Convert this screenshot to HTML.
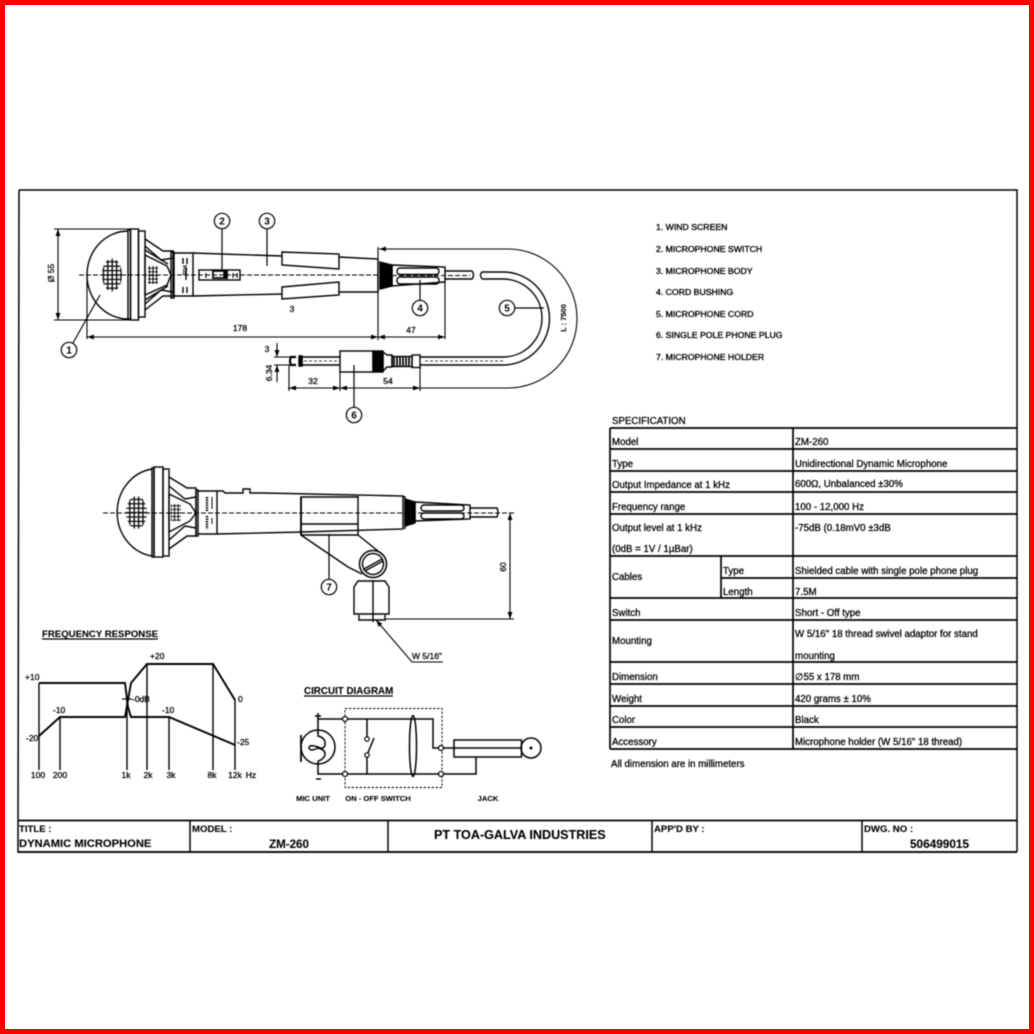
<!DOCTYPE html>
<html><head><meta charset="utf-8"><style>
html,body{margin:0;padding:0;background:#fff;width:1034px;height:1034px;overflow:hidden}
svg{display:block;filter:blur(.4px)}
#r{position:absolute;left:0;top:0;width:1024px;height:1024px;border:5px solid #f00}
text{font-family:"Liberation Sans",sans-serif;fill:#000;stroke:#000;stroke-width:.28}
.t{font-size:9.7px}
.l{font-size:8.7px;stroke-width:.35}
.d{font-size:8.5px}
.b{font-weight:bold;stroke-width:.1}
.n{font-size:10px;font-weight:bold;text-anchor:middle;stroke-width:0}
</style></head><body>
<svg width="1034" height="1034" viewBox="0 0 1034 1034" xmlns="http://www.w3.org/2000/svg">
<defs>
<pattern id="g" x="0" y="0" width="4.4" height="4.4" patternUnits="userSpaceOnUse"><path d="M0 2.2H4.4M2.2 0V4.4" stroke="#000" stroke-width="1.3" fill="none"/></pattern>
<pattern id="g2" x="0" y="0" width="3.6" height="3.6" patternUnits="userSpaceOnUse"><path d="M0 1.8H3.6M1.8 0V3.6" stroke="#000" stroke-width="1" fill="none"/></pattern>
<marker id="a" markerWidth="8" markerHeight="6" refX="7" refY="3" orient="auto-start-reverse" markerUnits="userSpaceOnUse"><path d="M0 .6L7 3L0 5.4Z" fill="#000"/></marker>
</defs>
<!-- frame -->
<g fill="none" stroke="#000" stroke-width="1.5">
<path d="M19 190H1017V852M19 190L18 852H1017"/>
<path d="M18 820.5H1017" stroke-width="1.8"/>
<path d="M18 852H1017" stroke-width="1.8"/>
<path d="M190 820V852M388 820V852M652 820V852M862 820V852"/>
</g>
<text x="19" y="832" class="b" font-size="9.6">TITLE :</text>
<text x="19" y="847" class="b" font-size="11.2">DYNAMIC MICROPHONE</text>
<text x="192" y="832" class="b" font-size="9.6">MODEL :</text>
<text x="269" y="848" class="b" font-size="11.6">ZM-260</text>
<text x="434" y="839" class="b" font-size="12.6">PT TOA-GALVA INDUSTRIES</text>
<text x="654" y="832" class="b" font-size="9.6">APP'D BY :</text>
<text x="864" y="832" class="b" font-size="9.6">DWG. NO :</text>
<text x="910" y="848" class="b" font-size="11.8">506499015</text>

<!-- legend -->
<text x="656" y="230" class="l">1. WIND SCREEN</text>
<text x="656" y="252" class="l">2. MICROPHONE SWITCH</text>
<text x="656" y="274" class="l">3. MICROPHONE BODY</text>
<text x="656" y="295" class="l">4. CORD BUSHING</text>
<text x="656" y="317" class="l">5. MICROPHONE CORD</text>
<text x="656" y="338" class="l">6. SINGLE POLE PHONE PLUG</text>
<text x="656" y="360" class="l">7. MICROPHONE HOLDER</text>

<!-- spec table -->
<text x="612" y="424" class="t">SPECIFICATION</text>
<g stroke="#000" stroke-width="1.7" fill="none">
<path d="M610 428H1017M610 449H1017M610 471H1017M610 492H1017M610 514H1017M610 556H1017M721 578H1017M610 598H1017M610 620H1017M610 662H1017M610 684H1017M610 706H1017M610 727H1017M610 749H1017"/>
<path d="M610 428V749M793 428V749M721 556V598"/>
</g>
<g class="t">
<text x="612" y="445" class="t">Model</text><text x="795" y="445" class="t">ZM-260</text>
<text x="612" y="467" class="t">Type</text><text x="795" y="467" class="t">Unidirectional Dynamic Microphone</text>
<text x="612" y="488" class="t">Output Impedance at 1 kHz</text><text x="795" y="487" class="t">600Ω, Unbalanced ±30%</text>
<text x="612" y="510" class="t">Frequency range</text><text x="795" y="510" class="t">100 - 12,000 Hz</text>
<text x="612" y="531" class="t">Output level at 1 kHz</text><text x="795" y="531" class="t">-75dB (0.18mV0 ±3dB</text>
<text x="612" y="552" class="t">(0dB = 1V / 1µBar)</text>
<text x="612" y="580" class="t">Cables</text><text x="723" y="574" class="t">Type</text><text x="795" y="574" class="t">Shielded cable with single pole phone plug</text>
<text x="723" y="595" class="t">Length</text><text x="795" y="595" class="t">7.5M</text>
<text x="612" y="616" class="t">Switch</text><text x="795" y="616" class="t">Short - Off type</text>
<text x="612" y="644" class="t">Mounting</text><text x="795" y="637" class="t">W 5/16" 18 thread swivel adaptor for stand</text><text x="795" y="659" class="t">mounting</text>
<text x="612" y="680" class="t">Dimension</text><text x="795" y="680" class="t">∅55 x 178 mm</text>
<text x="612" y="702" class="t">Weight</text><text x="795" y="702" class="t">420 grams ± 10%</text>
<text x="612" y="723" class="t">Color</text><text x="795" y="723" class="t">Black</text>
<text x="612" y="745" class="t">Accessory</text><text x="795" y="745" class="t">Microphone holder (W 5/16" 18 thread)</text>
<text x="611" y="767" class="t">All dimension are in millimeters</text>
</g>

<!-- TOP MIC -->
<g fill="none" stroke="#000" stroke-width="1.4">
<path d="M128 231A41 44 0 0 0 128 319" stroke-width="1.4"/>
<rect x="128" y="230" width="2.5" height="89" stroke-width="1.4"/>
<rect x="130.5" y="229" width="8" height="91"/>
<rect x="138.500" y="231" width="6.500" height="86"/>
<ellipse cx="112" cy="275" rx="10" ry="16.500" fill="url(#g)" stroke="none"/>
<path d="M145 239L163 251H173V296H163L145 310"/>
<path d="M145 246L161 260L173 258M145 304L161 290L173 292"/>
<path d="M145 255L167 266L171 275L167 285L145 295Z"/>
<path d="M145 250L168 264M145 300L168 286"/>
<rect x="148" y="266" width="10" height="18" fill="url(#g2)" stroke="none"/>
<rect x="171" y="252" width="3" height="46"/>
<path d="M173 253L193 253V296H173"/>
<path d="M193 253L282 256M193 296L282 294"/>
<path d="M282 252L339 254V269L282 265ZM282 287L339 282V295L282 299Z"/>
<path d="M339 257L378 259V292L339 292"/>
<rect x="199" y="270" width="41" height="10"/>
<rect x="213" y="271" width="14" height="7" stroke-width="1.7"/>
<path d="M224 271h3v7h-3z" fill="#000"/>
<path d="M183 258v6M183 287v6M187 258v6M187 287v6M186 268v12" stroke-width="1.4"/>
<path d="M206 273v5M233 273v5M237 273v5" stroke-width="1.1"/>
<path d="M79 275H378" stroke-width=".9" stroke-dasharray="5 2"/>
<path d="M380 262L392 265V286L380 289Z" fill="#000"/>
<path d="M392 265L445 267V282L392 286Z"/>
<rect x="397" y="268" width="42" height="6.500" rx="3"/>
<rect x="397" y="277" width="42" height="7" rx="3"/>
<path d="M392 275.500H470" stroke-width=".9" stroke-dasharray="5 2"/>
<path d="M445 271H472Q475 275 472 279H445" stroke-width="1.400"/>
<path d="M482 272H503A46 46 0 0 1 503 365H420" stroke-width="1.400"/>
<path d="M482 279H503A39 39 0 0 1 503 357H420" stroke-width="1.400"/>
<path d="M482 272Q479 275 482 279"/>
<path d="M425 361H505" stroke-width=".8" stroke-dasharray="3 2"/>
<!-- plug -->
<path d="M302 356V366M302 357H340M302 365H340" stroke-width="1.400"/>
<path d="M296 357H291Q289 361 291 365H296" stroke-width="2.200"/>
<path d="M299 356h3v10h-3z" fill="#000"/>
<path d="M304 361H340" stroke-width=".7" stroke-dasharray="3 2"/>
<rect x="340" y="351" width="33" height="21" stroke-width="1.400"/>
<rect x="373" y="351" width="10" height="21" fill="#000"/>
<path d="M383 352L387 355H392V367H387L383 371Z"/>
<rect x="392" y="356.500" width="20" height="10"/>
<path d="M394 356v11M397 356v11M400 356v11M403 356v11M406 356v11M409 356v11" stroke-width="1.700"/>
<rect x="412" y="355" width="8" height="12.500"/>
<!-- dims -->
<g stroke-width="1.100">
<path d="M54 229H130M54 320H130"/>
<path d="M58 229V320" marker-start="url(#a)" marker-end="url(#a)"/>
<path d="M87 275V339M378 247V340M445 282V339"/>
<path d="M87 337H378" marker-start="url(#a)" marker-end="url(#a)"/>
<path d="M378 337H445" marker-start="url(#a)" marker-end="url(#a)"/>
<path d="M379 249H508A69 69.500 0 0 1 508 388H288" marker-start="url(#a)"/>
<path d="M274 357H291M274 365H291"/>
<path d="M277 343V357" marker-end="url(#a)"/>
<path d="M277 382V365" marker-end="url(#a)"/>
<path d="M289 365V391M340 372V391M420 367V391"/>
<path d="M289 388H340" marker-start="url(#a)" marker-end="url(#a)"/>
<path d="M340 388H420" marker-start="url(#a)" marker-end="url(#a)"/>
</g>
<!-- leaders -->
<g stroke-width="1.200">
<circle cx="69" cy="350" r="7.700"/><path d="M73 343L100 295"/>
<circle cx="222" cy="221" r="7.700"/><path d="M222 229V271"/>
<circle cx="267" cy="221" r="7.700"/><path d="M267 229V266"/>
<circle cx="420" cy="308" r="7.700"/><path d="M420 300V280"/>
<circle cx="507" cy="308" r="7.700"/><path d="M515 308H544"/>
<circle cx="354" cy="415" r="7.700"/><path d="M354 407V365"/>
<circle cx="329" cy="587" r="7.700"/><path d="M329 579V534"/>
</g>
</g>
<text x="69" y="353.500" class="n">1</text><text x="222" y="224.500" class="n">2</text><text x="267" y="224.500" class="n">3</text><text x="420" y="311.500" class="n">4</text><text x="507" y="311.500" class="n">5</text><text x="354" y="418.500" class="n">6</text><text x="329" y="590.500" class="n">7</text>
<text x="240" y="331" class="d" text-anchor="middle">178</text>
<text x="292" y="312" class="d" text-anchor="middle">3</text>
<text x="411" y="333" class="d" text-anchor="middle">47</text>
<text x="267" y="352" class="d" text-anchor="middle">3</text>
<text x="313" y="384" class="d" text-anchor="middle">32</text>
<text x="388" y="384" class="d" text-anchor="middle">54</text>
<text transform="translate(54,273) rotate(-90)" class="d" text-anchor="middle">Ø 55</text>
<text transform="translate(272,373) rotate(-90)" class="d" text-anchor="middle">6.34</text>
<text transform="translate(566,318) rotate(-90)" font-size="7.500" class="b" text-anchor="middle">L : 7500</text>
<text transform="translate(187,270) rotate(-90)" font-size="5" text-anchor="middle">TOA</text>

<!-- SIDE MIC -->
<g fill="none" stroke="#000" stroke-width="1.400">
<path d="M152 469A41 44 0 0 0 152 556" stroke-width="1.400"/>
<rect x="152" y="468" width="2" height="89"/>
<rect x="154" y="467" width="9" height="90"/>
<rect x="163" y="469" width="6" height="87"/>
<ellipse cx="136.500" cy="512.500" rx="10.500" ry="16.500" fill="url(#g)" stroke="none"/>
<path d="M169 477L187 488H196V536H187L169 549"/>
<path d="M169 486L185 499L196 497M169 540L185 526L196 528"/>
<path d="M169 494L190 504L196 513L190 521L169 532Z"/>
<rect x="171" y="504" width="10" height="17" fill="url(#g2)" stroke="none"/>
<rect x="196" y="490" width="2" height="46"/>
<path d="M198 491H217V534H198"/>
<path d="M207 497v14M207 516v13" stroke-width="2.400" stroke-dasharray="1.500 1"/>
<path d="M212 497v12M212 518v6" stroke-width="1"/>
<path d="M217 491H223L225 493H243V489H250V493H264L403 496V529L301 532L217 534"/>
<path d="M301 497H358V535H301ZM301 524H358M358 496V535"/>
<path d="M301 497V535" stroke-width="1.800"/>
<path d="M301 535L348 567L362 574M358 535L383 555"/>
<circle cx="373" cy="564" r="13.500" stroke-width="1.500"/><circle cx="373" cy="564" r="10.500"/>
<path d="M364 569L382 559M365 571L383 561"/>
<path d="M354 614V587L358 581H385L389 587V614ZM359 615V620H385V615M373 580V622"/>
<path d="M403 496L405 497V529"/>
<path d="M405 499L415 502V523L405 526Z" fill="#000"/>
<path d="M415 502L470 505V519L415 521Z"/>
<rect x="421" y="505" width="43" height="6" rx="3"/><rect x="421" y="513" width="43" height="6" rx="3"/>
<path d="M470 508H497Q499 512 497 517H470" stroke-width="1.400"/>
<path d="M103 513H515" stroke-width="1" stroke-dasharray="5 2"/>
<g stroke-width="1.100">
<path d="M385 619H514"/>
<path d="M510 513V619" marker-start="url(#a)" marker-end="url(#a)"/>
<path d="M443 662H412L376 620" marker-end="url(#a)"/>
</g>
</g>
<text x="412" y="659" class="d">W 5/16"</text>
<text transform="translate(506,567) rotate(-90)" class="d" text-anchor="middle">60</text>

<!-- FREQ RESPONSE -->
<text x="42" y="637" font-size="9.600" class="b">FREQUENCY RESPONSE</text>
<path d="M42 639H158" stroke="#000" stroke-width="1.200"/>
<g fill="none" stroke="#000">
<path d="M39 683V770M60 717V770M127 700V770M147 664V770M169 717V770M213 664V770M235 700V770" stroke-width="1.400"/>
<path d="M39 683H125L128 707L131 717H169L235 745" stroke-width="1.900"/>
<path d="M39 736L60 717H125L128 700L131 683L147 664H213L235 700" stroke-width="1.900"/>
<path d="M122 699H132" stroke-width="1.200"/>
</g>
<g class="d">
<text x="25" y="680" class="d">+10</text><text x="150" y="659" class="d">+20</text><text x="53" y="713" class="d">-10</text>
<text x="162" y="713" class="d">-10</text><text x="26" y="741" class="d">-20</text><text x="132" y="702" class="d">-0dB</text>
<text x="238" y="702" class="d">0</text><text x="237" y="745" class="d">-25</text>
<text x="38" y="778" class="d" text-anchor="middle">100</text><text x="60" y="778" class="d" text-anchor="middle">200</text>
<text x="126" y="778" class="d" text-anchor="middle">1k</text><text x="148" y="778" class="d" text-anchor="middle">2k</text>
<text x="171" y="778" class="d" text-anchor="middle">3k</text><text x="212" y="778" class="d" text-anchor="middle">8k</text>
<text x="235" y="778" class="d" text-anchor="middle">12k</text><text x="251" y="778" class="d" text-anchor="middle">Hz</text>
</g>

<!-- CIRCUIT -->
<text x="304" y="694" font-size="9.800" class="b">CIRCUIT DIAGRAM</text>
<path d="M304 696H393" stroke="#000" stroke-width="1.200"/>
<g fill="none" stroke="#000" stroke-width="1.500">
<rect x="345" y="708.500" width="97" height="79" stroke-width=".9" stroke-dasharray="2.500 1.500"/>
<path d="M318 733V719H433V748H521M318 761V774H476V757"/>
<rect x="454" y="740" width="67.500" height="17"/>
<circle cx="531" cy="748" r="10"/>
<circle cx="318" cy="747" r="17"/>
<path d="M301 735V762" stroke-width="1.800"/>
<path d="M318 730V736Q326 738 325 745Q324 750 318 747Q309 744 309 748Q310 752 318 748Q326 750 325 755Q323 760 318 761"/>
<path d="M367 719V737M367 757V774M367 755L374 738"/>
<ellipse cx="413" cy="746" rx="3.500" ry="30.500"/>
<path d="M318 713V719M315 716H321M316 779H321"/>
</g>
<g fill="#fff" stroke="#000" stroke-width="1.200">
<circle cx="345" cy="719" r="2.500"/><circle cx="345" cy="774" r="2.500"/><circle cx="441" cy="748" r="2.500"/><circle cx="441" cy="774" r="2.500"/><circle cx="367" cy="739" r="2.200"/><circle cx="367" cy="755" r="2.200"/>
</g>
<circle cx="531" cy="748" r="1.500" fill="#000"/>
<text x="313" y="801" font-size="7.600" class="b" text-anchor="middle">MIC UNIT</text>
<text x="378" y="801" font-size="7.600" class="b" text-anchor="middle">ON - OFF SWITCH</text>
<text x="488" y="801" font-size="7.600" class="b" text-anchor="middle">JACK</text>
</svg>
<div id="r"></div>
</body></html>
